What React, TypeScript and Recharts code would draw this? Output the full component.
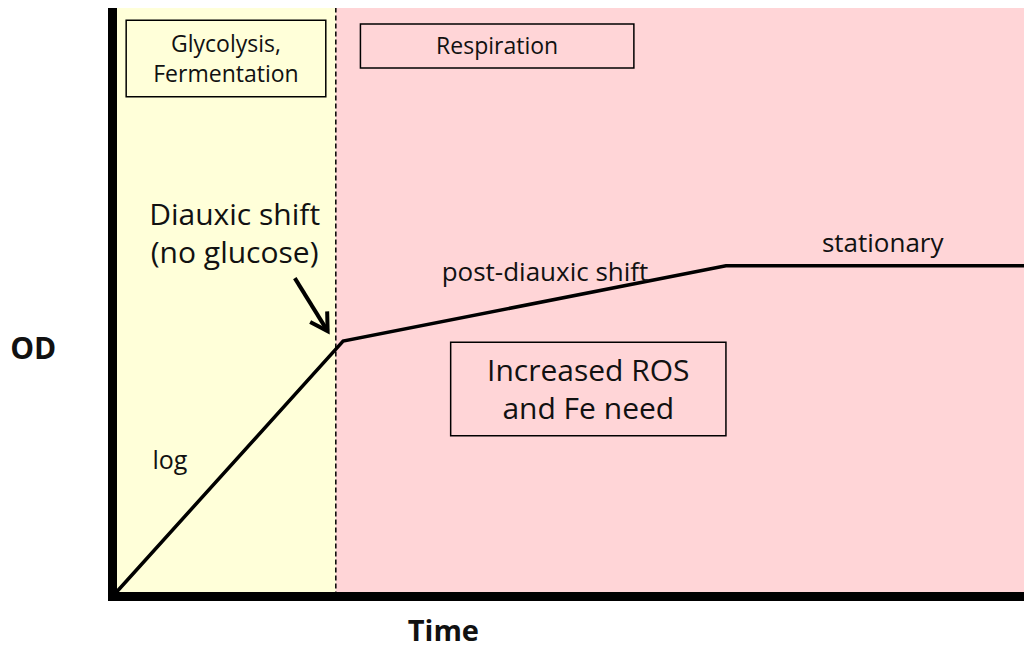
import React from 'react'
import {
  ComposedChart,
  Line,
  XAxis,
  YAxis,
  ReferenceArea,
  ReferenceLine,
  ReferenceDot,
} from 'recharts'

// growth curve (time vs OD, arbitrary units 0-100)
const time = [0, 25.3, 67.3, 100]
const od = [0, 43.4, 56.2, 56.2]

// arrow pointing at the diauxic shift
const arrowTime = [20.0, 23.6]
const arrowOd = [54.1, 45.1]

const shiftTime = 24.5

const curve = time.map((t, i) => ({ t, od: od[i] }))
const arrow = arrowTime.map((t, i) => ({ t, od: arrowOd[i] }))

const FONT = '"Open Sans", sans-serif'

function TextBlock({ viewBox, lines, fontSize, gap, bold, angle }: any) {
  const cx = viewBox.x + viewBox.width / 2
  const cy = viewBox.y + viewBox.height / 2
  const n = lines.length
  return (
    <text
      x={cx}
      y={cy}
      textAnchor="middle"
      fontFamily={FONT}
      fontSize={fontSize}
      fontWeight={bold ? 700 : 400}
      fill="#111"
      transform={angle ? `rotate(${angle} ${cx} ${cy})` : undefined}
    >
      {lines.map((l: string, i: number) => (
        <tspan key={i} x={cx} y={cy + (i - (n - 1) / 2) * (gap || 0) + fontSize * 0.35}>
          {l}
        </tspan>
      ))}
    </text>
  )
}

export default function App() {
  return (
    <div style={{ position: 'absolute', left: 0, top: 0, width: 1024, height: 649, background: '#fff' }}>
      <ComposedChart
        width={1024}
        height={649}
        data={curve}
        margin={{ top: 8, right: 0, left: 112.5, bottom: 52.5 }}
      >
        <defs>
          <marker id="arrowHead" markerUnits="userSpaceOnUse" markerWidth={26} markerHeight={26} refX={20} refY={12} orient="auto">
            <path d="M3,2 L20,12 L3,22" fill="none" stroke="#000" strokeWidth={4} />
          </marker>
        </defs>
        <XAxis dataKey="t" type="number" domain={[0, 100]} hide />
        <YAxis type="number" domain={[0, 100]} hide width={0} />

        {/* metabolic phases */}
        <ReferenceArea x1={0} x2={shiftTime} y1={0} y2={100} fill="#FFFFD9" fillOpacity={1} stroke="none" />
        <ReferenceArea x1={shiftTime} x2={100} y1={0} y2={100} fill="#FFD5D7" fillOpacity={1} stroke="none" />
        <ReferenceLine x={shiftTime} stroke="#000" strokeWidth={1.5} strokeDasharray="5 3" />

        {/* boxed notes */}
        <ReferenceArea
          x1={1.5} x2={23.4} y1={84.9} y2={97.9}
          fill="none" stroke="#000" strokeWidth={1.5}
          label={<TextBlock lines={['Glycolysis,', 'Fermentation']} fontSize={23} gap={30} />}
        />
        <ReferenceArea
          x1={27.2} x2={57.2} y1={89.8} y2={97.3}
          fill="none" stroke="#000" strokeWidth={1.5}
          label={<TextBlock lines={['Respiration']} fontSize={23} />}
        />
        <ReferenceArea
          x1={37.1} x2={67.3} y1={27.3} y2={43.2}
          fill="none" stroke="#000" strokeWidth={1.5}
          label={<TextBlock lines={['Increased ROS', 'and Fe need']} fontSize={30} gap={38} />}
        />

        <Line data={curve} dataKey="od" type="linear" stroke="#000" strokeWidth={3.5} dot={false} isAnimationActive={false} />
        <Line data={arrow} dataKey="od" type="linear" stroke="#000" strokeWidth={4} dot={false} markerEnd="url(#arrowHead)" isAnimationActive={false} />

        {/* free text */}
        <ReferenceDot x={13.4} y={61.7} r={0} stroke="none" label={<TextBlock lines={['Diauxic shift', '(no glucose)']} fontSize={30} gap={38} />} />
        <ReferenceDot x={6.3} y={23.2} r={0} stroke="none" label={<TextBlock lines={['log']} fontSize={25} />} />
        <ReferenceDot x={47.45} y={55.1} r={0} stroke="none" label={<TextBlock lines={['post-diauxic shift']} fontSize={26} angle={-11.2} />} />
        <ReferenceDot x={84.5} y={60.1} r={0} stroke="none" label={<TextBlock lines={['stationary']} fontSize={26} />} />
        <ReferenceDot x={-8.7} y={42.2} r={0} stroke="none" ifOverflow="visible" label={<TextBlock lines={['OD']} fontSize={30} bold />} />
        <ReferenceDot x={36.3} y={-5.8} r={0} stroke="none" ifOverflow="visible" label={<TextBlock lines={['Time']} fontSize={29} bold />} />

        {/* axes */}
        <ReferenceLine segment={[{ x: 0, y: 0 }, { x: 0, y: 100 }]} stroke="#000" strokeWidth={9} />
        <ReferenceLine segment={[{ x: 0, y: 0 }, { x: 100, y: 0 }]} stroke="#000" strokeWidth={9} strokeLinecap="square" />
      </ComposedChart>
    </div>
  )
}
